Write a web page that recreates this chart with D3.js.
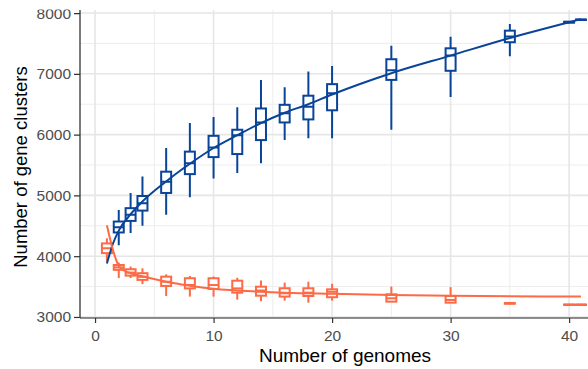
<!DOCTYPE html>
<html>
<head>
<meta charset="utf-8">
<script src="https://cdn.jsdelivr.net/npm/d3@7"></script>
<style>
  body { margin: 0; background: #fff; }
  svg { display: block; font-family: "Liberation Sans", Arial, sans-serif; }
</style>
</head>
<body>
<svg id="chart" width="588" height="369"></svg>
<script>
// number of genomes sampled
const panGenomes = [2, 3, 4, 6, 8, 10, 12, 14, 16, 18, 20, 25, 30, 35, 40, 41];
const coreGenomes = [1, 2, 3, 4, 6, 8, 10, 12, 14, 16, 18, 20, 25, 30, 35, 40, 41];

// pan genome boxplots (blue)
const panMin = [4180, 4380, 4500, 4680, 4970, 5280, 5370, 5530, 5910, 5940, 5940, 6080, 6620, 7290, 7830, 7880];
const panQ1  = [4390, 4580, 4750, 5040, 5350, 5630, 5680, 5910, 6200, 6250, 6400, 6900, 7050, 7520, 7842, 7886];
const panMed = [4475, 4680, 4870, 5225, 5530, 5790, 5990, 6200, 6350, 6460, 6680, 7060, 7300, 7615, 7850, 7890];
const panQ3  = [4570, 4790, 4990, 5390, 5720, 5980, 6080, 6430, 6490, 6640, 6830, 7240, 7420, 7710, 7858, 7894];
const panMax = [4760, 5040, 5310, 5780, 6190, 6290, 6450, 6900, 6780, 7040, 7130, 7460, 7610, 7820, 7870, 7900];

// core genome boxplots (orange)
const coreMin = [3910, 3640, 3640, 3540, 3345, 3335, 3335, 3285, 3260, 3268, 3235, 3268, 3250, 3235, 3212, 3196, 3196];
const coreQ1  = [4050, 3775, 3680, 3610, 3510, 3470, 3460, 3400, 3350, 3335, 3345, 3325, 3252, 3235, 3218, 3199, 3199];
const coreMed = [4130, 3815, 3730, 3660, 3580, 3527, 3525, 3470, 3435, 3390, 3400, 3415, 3307, 3280, 3224, 3202, 3202];
const coreQ3  = [4210, 3855, 3785, 3720, 3663, 3637, 3637, 3597, 3498, 3472, 3472, 3455, 3373, 3345, 3230, 3205, 3205];
const coreMax = [4295, 3895, 3830, 3800, 3700, 3675, 3665, 3645, 3600, 3565, 3580, 3545, 3500, 3490, 3236, 3208, 3208];

// fitted curves
const panFitX = [1, 1.5, 2, 3, 4, 6, 8, 10, 12, 14, 16, 18, 20, 25, 30, 35, 40, 41];
const panFitY = [3880, 4200, 4420, 4690, 4900, 5230, 5520, 5780, 5990, 6190, 6360, 6500, 6660, 7010, 7300, 7590, 7850, 7900];
const coreFitX = [1, 1.5, 2, 2.5, 3, 4, 6, 8, 10, 14, 20, 25, 30, 41];
const coreFitY = [4510, 4110, 3840, 3760, 3720, 3670, 3580, 3515, 3465, 3415, 3380, 3362, 3350, 3335];

const xTicks = [0, 10, 20, 30, 40];
const xMinor = [5, 15, 25, 35];
const yTicks = [3000, 4000, 5000, 6000, 7000, 8000];
const yMinor = [3500, 4500, 5500, 6500, 7500];

const blue = "#0a4498";
const orange = "#fd6a45";

const svg = d3.select("#chart");
const panel = { left: 80, right: 610, top: 10, bottom: 318 };

// the source figure is cropped just above the panel
svg.append("clipPath").attr("id", "crop")
  .append("rect").attr("x", 0).attr("y", 9.5).attr("width", 588).attr("height", 360);
const root = svg.append("g").attr("clip-path", "url(#crop)");

const x = d3.scaleLinear().domain([-1.27, 43.45]).range([panel.left, panel.right]);
const y = d3.scaleLinear().domain([2983, 8050]).range([panel.bottom, panel.top]);

// --- grid ---
const grid = root.append("g");
grid.selectAll(".xmin").data(xMinor).enter().append("line")
  .attr("x1", d => x(d)).attr("x2", d => x(d))
  .attr("y1", panel.top).attr("y2", panel.bottom)
  .attr("stroke", "#ededed").attr("stroke-width", 1);
grid.selectAll(".ymin").data(yMinor).enter().append("line")
  .attr("x1", panel.left).attr("x2", panel.right)
  .attr("y1", d => y(d)).attr("y2", d => y(d))
  .attr("stroke", "#ededed").attr("stroke-width", 1);
grid.selectAll(".xmaj").data(xTicks).enter().append("line")
  .attr("x1", d => x(d)).attr("x2", d => x(d))
  .attr("y1", panel.top).attr("y2", panel.bottom)
  .attr("stroke", "#e6e6e6").attr("stroke-width", 1.6);
grid.selectAll(".ymaj").data(yTicks).enter().append("line")
  .attr("x1", panel.left).attr("x2", panel.right)
  .attr("y1", d => y(d)).attr("y2", d => y(d))
  .attr("stroke", "#e6e6e6").attr("stroke-width", 1.6);

// --- boxplots ---
function drawBoxes(xs, mins, q1s, meds, q3s, maxs, color) {
  const data = xs.map((g, i) => ({ g, min: mins[i], q1: q1s[i], med: meds[i], q3: q3s[i], max: maxs[i] }));
  const hw = 5;
  const g = root.append("g").attr("stroke", color).attr("stroke-width", 2).attr("fill", "#fff");
  const b = g.selectAll("g").data(data).enter().append("g");
  b.append("line")
    .attr("x1", d => x(d.g)).attr("x2", d => x(d.g))
    .attr("y1", d => y(d.max)).attr("y2", d => y(d.q3));
  b.append("line")
    .attr("x1", d => x(d.g)).attr("x2", d => x(d.g))
    .attr("y1", d => y(d.q1)).attr("y2", d => y(d.min));
  b.append("rect")
    .attr("x", d => x(d.g) - hw).attr("width", hw * 2)
    .attr("y", d => y(d.q3)).attr("height", d => Math.max(0.5, y(d.q1) - y(d.q3)));
  b.append("line")
    .attr("x1", d => x(d.g) - hw).attr("x2", d => x(d.g) + hw)
    .attr("y1", d => y(d.med)).attr("y2", d => y(d.med));
}
drawBoxes(coreGenomes, coreMin, coreQ1, coreMed, coreQ3, coreMax, orange);
drawBoxes(panGenomes, panMin, panQ1, panMed, panQ3, panMax, blue);

// --- fitted curves ---
const line = d3.line().curve(d3.curveMonotoneX).x(d => x(d[0])).y(d => y(d[1]));
root.append("path")
  .datum(panFitX.map((v, i) => [v, panFitY[i]]))
  .attr("d", line).attr("fill", "none").attr("stroke", blue).attr("stroke-width", 2);
root.append("path")
  .datum(coreFitX.map((v, i) => [v, coreFitY[i]]))
  .attr("d", line).attr("fill", "none").attr("stroke", orange).attr("stroke-width", 2);

// --- axes ---
const xAxis = root.append("g")
  .attr("transform", `translate(0,${panel.bottom})`)
  .call(d3.axisBottom(x).tickValues(xTicks).tickSize(5).tickPadding(7));
const yAxis = root.append("g")
  .attr("transform", `translate(${panel.left},0)`)
  .call(d3.axisLeft(y).tickValues(yTicks).tickFormat(d3.format("d")).tickSize(6).tickPadding(3));

[xAxis, yAxis].forEach(a => {
  a.select(".domain").attr("stroke", "#222").attr("stroke-width", 1.2);
  a.selectAll(".tick line").attr("stroke", "#333").attr("stroke-width", 1.2);
  a.selectAll(".tick text")
    .attr("fill", "#4d4d4d")
    .attr("font-size", 15.5)
    .attr("font-family", "Liberation Sans, Arial, sans-serif");
});
xAxis.select(".domain").attr("d", `M${panel.left},0H${panel.right}`);
yAxis.select(".domain").attr("d", `M0,${panel.top}V${panel.bottom}`);

root.append("text")
  .attr("x", (panel.left + panel.right) / 2).attr("y", 362)
  .attr("text-anchor", "middle").attr("font-size", 19).attr("fill", "#000")
  .text("Number of genomes");

root.append("text")
  .attr("transform", "translate(27,167) rotate(-90)")
  .attr("text-anchor", "middle").attr("font-size", 18.5).attr("fill", "#000")
  .text("Number of gene clusters");
</script>
</body>
</html>
